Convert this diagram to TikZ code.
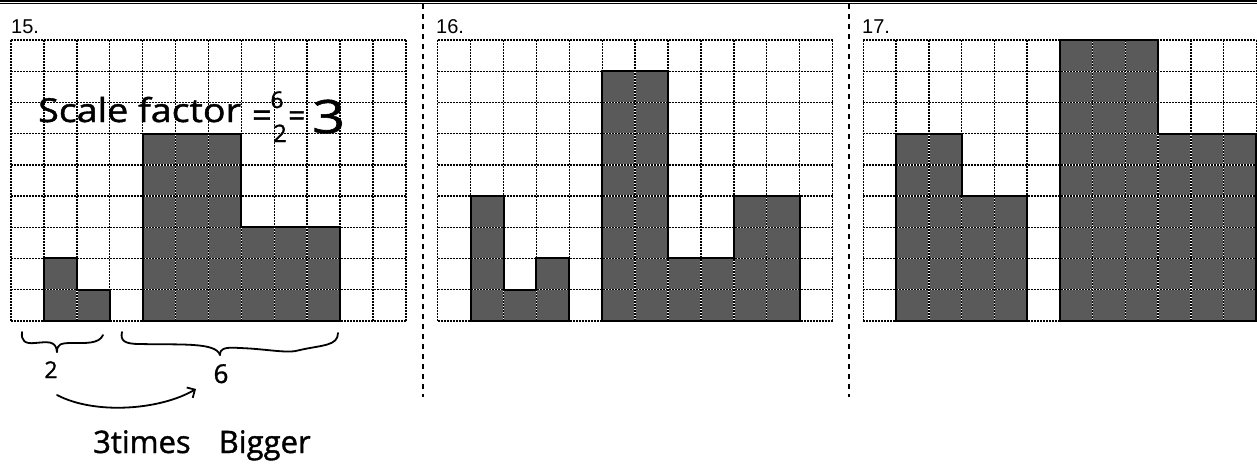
\documentclass[tikz,border=0pt]{standalone}
\usepackage{fontspec}
\setmainfont{DejaVu Sans}
\newfontfamily\hand[FakeBold=1.2]{Open Sans}
\newfontfamily\lab{Liberation Sans}
\usetikzlibrary{arrows.meta}
\definecolor{shapegray}{RGB}{90,90,90}
\tikzset{
  gridback/.style={line width=1.4pt, white},
  gridline/.style={line width=1.4pt, black, dash pattern=on 2pt off 1pt},
  figfill/.style={fill=shapegray},
  figline/.style={line width=2pt, line join=miter},
  sepline/.style={line width=2pt, dash pattern=on 5pt off 5pt},
  numlabel/.style={font=\lab\fontsize{20}{20}\selectfont, anchor=base west, inner sep=0pt},
  handtext/.style={font=\hand\fontsize{30}{30}\selectfont, inner sep=0pt, anchor=base west},
  ink/.style={line width=1.8pt, line cap=round, line join=round},
}
\newcommand\panelgrid{%
  \foreach \i in {0,...,12} \draw[gridback] (\i,0) -- (\i,9);
  \foreach \j in {0,...,9} \draw[gridback] (0,\j) -- (12,\j);
  \foreach \i in {0,...,12} \draw[gridline] (\i,0) -- (\i,9);
  \foreach \j in {0,...,9} \draw[gridline] (0,\j) -- (12,\j);
}
\begin{document}
\begin{tikzpicture}[x=1pt,y=-1pt]
\useasboundingbox (0,0) rectangle (1257,466);
\fill[white] (0,0) rectangle (1257,466);
% top double rule
\fill (0,0) rectangle (1257,2.4);
\draw[line width=1pt] (0,3.9) -- (1257,3.9);
% separators
\draw[sepline] (422.7,4) -- (422.7,397);
\draw[sepline] (849,4) -- (849,397);
% labels
\node[numlabel] (n15) at (11,33) {15.};
\node[numlabel] (n16) at (436,33) {16.};
\node[numlabel] (n17) at (862,33) {17.};

% panel 15
\begin{scope}[shift={(11,40)}, x=32.9pt, y=-31.2pt]
  \fill[figfill] (1,7) -- (2,7) -- (2,8) -- (3,8) -- (3,9) -- (1,9) -- cycle;
  \fill[figfill] (4,3) -- (7,3) -- (7,6) -- (10,6) -- (10,9) -- (4,9) -- cycle;
  \panelgrid
  \draw[figline] (1,7) -- (2,7) -- (2,8) -- (3,8) -- (3,9) -- (1,9) -- cycle;
  \draw[figline] (4,3) -- (7,3) -- (7,6) -- (10,6) -- (10,9) -- (4,9) -- cycle;
\end{scope}

% panel 16
\begin{scope}[shift={(437.7,40)}, x=32.9pt, y=-31.2pt]
  \fill[figfill] (1,5) -- (2,5) -- (2,8) -- (3,8) -- (3,7) -- (4,7) -- (4,9) -- (1,9) -- cycle;
  \fill[figfill] (5,1) -- (7,1) -- (7,7) -- (9,7) -- (9,5) -- (11,5) -- (11,9) -- (5,9) -- cycle;
  \panelgrid
  \draw[figline] (1,5) -- (2,5) -- (2,8) -- (3,8) -- (3,7) -- (4,7) -- (4,9) -- (1,9) -- cycle;
  \draw[figline] (5,1) -- (7,1) -- (7,7) -- (9,7) -- (9,5) -- (11,5) -- (11,9) -- (5,9) -- cycle;
\end{scope}

% panel 17
\begin{scope}[shift={(863.3,40)}, x=32.75pt, y=-31.2pt]
  \fill[figfill] (1,3) -- (3,3) -- (3,5) -- (5,5) -- (5,9) -- (1,9) -- cycle;
  \fill[figfill] (6,0) -- (9,0) -- (9,3) -- (12,3) -- (12,9) -- (6,9) -- cycle;
  \panelgrid
  \draw[figline] (1,3) -- (3,3) -- (3,5) -- (5,5) -- (5,9) -- (1,9) -- cycle;
  \draw[figline] (6,0) -- (9,0) -- (9,3) -- (12,3) -- (12,9) -- (6,9) -- cycle;
\end{scope}

% handwriting: scale factor
\node[handtext, font=\hand\fontsize{33}{33}\selectfont] (sf) at (38,122) {\scalebox{1.14}[1]{Scale factor}};
\node[handtext, font=\hand\fontsize{34}{34}\selectfont] (eqa) at (252,127) {=};
\node[handtext, anchor=base, font=\hand\fontsize{23}{23}\selectfont] (num) at (277,108) {6};
\node[handtext, anchor=base, font=\hand\fontsize{24}{24}\selectfont] (den) at (280,142) {2};
\node[handtext] (eqb) at (288,126) {=};
\node[handtext, font=\hand\fontsize{46}{46}\selectfont] (three) at (312,133) {\scalebox{1.25}[1]{3}};

% braces
\draw[ink] (22,332) .. controls (21,341) and (25,344) .. (35,343)
  .. controls (47,342) and (56,340) .. (57,352);
\draw[ink] (57,352) .. controls (57,344) and (61,343) .. (72,343)
  .. controls (86,343) and (99,344) .. (103,335);
\draw[ink] (122,332) .. controls (120,341) and (125,344) .. (140,344)
  .. controls (180,345) and (216,342) .. (220,355);
\draw[ink] (220,355) .. controls (220,348) and (226,347) .. (240,348)
  .. controls (268,349) and (288,354) .. (300,350)
  .. controls (322,345) and (338,346) .. (338,333);
\node[handtext, anchor=base, font=\hand\fontsize{23}{23}\selectfont] (two) at (51,378) {2};
\node[handtext, anchor=base, font=\hand\fontsize{26}{26}\selectfont] (six) at (221,383) {6};

% arrow
\coordinate (a1) at (57,395);
\coordinate (a2) at (196,389);
\draw[ink, -{Straight Barb[length=6pt, width=12pt]}] (a1) .. controls (95,415) and (160,410) .. (a2);

\node[handtext, font=\hand\fontsize{31}{31}\selectfont] (big) at (93,453) {3times\hspace{28pt}Bigger};
\end{tikzpicture}
\end{document}
